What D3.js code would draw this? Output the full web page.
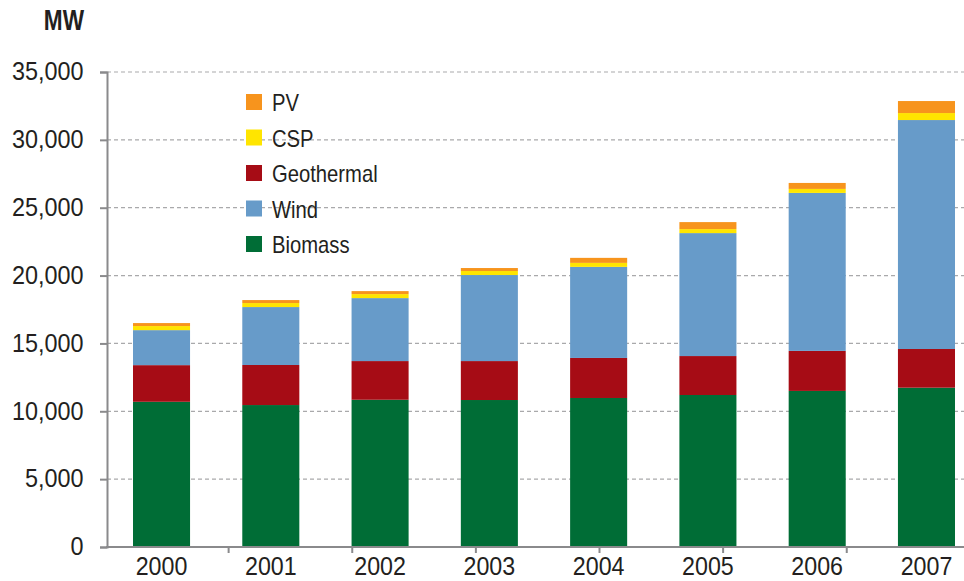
<!DOCTYPE html>
<html>
<head>
<meta charset="utf-8">
<script src="https://cdn.jsdelivr.net/npm/d3@7"></script>
<style>
  body { margin: 0; background: #fff; }
  svg { display: block; font-family: "Liberation Sans", Arial, sans-serif; }
</style>
</head>
<body>
<svg id="chart" width="964" height="581"></svg>
<script>
// values (MW)
var years = ["2000", "2001", "2002", "2003", "2004", "2005", "2006", "2007"];
var biomass = [10700, 10460, 10850, 10830, 10980, 11200, 11500, 11740];
var geothermal = [2700, 2950, 2850, 2870, 2950, 2870, 2950, 2850];
var wind = [2580, 4270, 4640, 6340, 6710, 9060, 11640, 16870];
var csp = [300, 295, 295, 295, 295, 295, 295, 515];
var pv = [220, 220, 220, 220, 370, 515, 440, 885];
var yTicks = [0, 5000, 10000, 15000, 20000, 25000, 30000, 35000];

var seriesKeys = ["biomass", "geothermal", "wind", "csp", "pv"];
var seriesNames = { biomass: "Biomass", geothermal: "Geothermal", wind: "Wind", csp: "CSP", pv: "PV" };
var colors = { biomass: "#006d36", geothermal: "#a60c15", wind: "#679bc9", csp: "#ffe500", pv: "#f7941d" };
var legendOrder = ["pv", "csp", "geothermal", "wind", "biomass"];

var rows = years.map(function(y, i) {
  return { year: y, biomass: biomass[i], geothermal: geothermal[i], wind: wind[i], csp: csp[i], pv: pv[i] };
});

var margin = { top: 72, left: 107, bottom: 34 },
  width = 964,
  height = 581,
  y0 = height - margin.bottom;

var svg = d3.select("#chart");

var xScale = d3
  .scaleBand()
  .domain(years)
  .range([margin.left, 981])
  .paddingInner(0.478)
  .paddingOuter(0.238);

// the category ticks on the bottom axis sit on their own spacing
var xTickScale = d3.scaleLinear().domain([0, 8]).range([105, 1094]);

var yScale = d3.scaleLinear().domain([0, 35000]).range([y0, margin.top]);

var stacked = d3.stack().keys(seriesKeys)(rows);

var textColor = "#231f20";
var axisColor = "#8a8a8c";

// gridlines
svg
  .append("g")
  .selectAll("line")
  .data(yTicks.filter(function(d) { return d > 0; }))
  .enter()
  .append("line")
  .attr("x1", margin.left)
  .attr("x2", width)
  .attr("y1", function(d) { return yScale(d); })
  .attr("y2", function(d) { return yScale(d); })
  .attr("stroke", "#a9a9ab")
  .attr("stroke-width", 1.2)
  .attr("stroke-dasharray", "4,3");

// bars
svg
  .append("g")
  .selectAll("g")
  .data(stacked)
  .enter()
  .append("g")
  .attr("fill", function(d) { return colors[d.key]; })
  .selectAll("rect")
  .data(function(d) { return d; })
  .enter()
  .append("rect")
  .attr("x", function(d) { return xScale(d.data.year); })
  .attr("y", function(d) { return yScale(d[1]); })
  .attr("width", xScale.bandwidth())
  .attr("height", function(d) { return yScale(d[0]) - yScale(d[1]); });

// y axis
var yAxis = d3
  .axisLeft(yScale)
  .tickValues(yTicks)
  .tickSize(7)
  .tickPadding(19)
  .tickFormat(d3.format(","));

var yAxisG = svg
  .append("g")
  .attr("transform", "translate(" + margin.left + ",0)")
  .call(yAxis);

yAxisG.select(".domain").attr("stroke", axisColor).attr("stroke-width", 2);
yAxisG.selectAll(".tick line").attr("stroke", axisColor).attr("stroke-width", 2);
yAxisG
  .selectAll(".tick text")
  .attr("fill", textColor)
  .style("font-size", "26px")
  .attr("dy", "0.3em")
  .attr("transform", "scale(0.9,1)");

// x axis line and ticks
svg
  .append("line")
  .attr("x1", margin.left - 1)
  .attr("x2", width)
  .attr("y1", y0)
  .attr("y2", y0)
  .attr("stroke", axisColor)
  .attr("stroke-width", 2);

svg
  .append("g")
  .selectAll("line")
  .data([1, 2, 3, 4, 5, 6, 7])
  .enter()
  .append("line")
  .attr("x1", function(d) { return xTickScale(d); })
  .attr("x2", function(d) { return xTickScale(d); })
  .attr("y1", y0)
  .attr("y2", y0 + 6)
  .attr("stroke", axisColor)
  .attr("stroke-width", 2);

svg
  .append("g")
  .selectAll("text")
  .data(years)
  .enter()
  .append("text")
  .attr("transform", function(d) {
    return "translate(" + (xScale(d) + xScale.bandwidth() / 2) + "," + (y0 + 28) + ") scale(0.93,1)";
  })
  .attr("text-anchor", "middle")
  .attr("fill", textColor)
  .style("font-size", "25px")
  .text(function(d) { return d; });

// unit label
svg
  .append("text")
  .attr("transform", "translate(84,30) scale(0.78,1)")
  .attr("text-anchor", "end")
  .attr("fill", textColor)
  .style("font-size", "29px")
  .style("font-weight", "bold")
  .text("MW");

// legend
var legend = svg
  .append("g")
  .attr("transform", "translate(246,102)")
  .selectAll("g")
  .data(legendOrder)
  .enter()
  .append("g")
  .attr("transform", function(d, i) { return "translate(0," + i * 35.5 + ")"; });

legend
  .append("rect")
  .attr("x", 0)
  .attr("y", -8)
  .attr("width", 16)
  .attr("height", 16)
  .attr("fill", function(d) { return colors[d]; });

legend
  .append("text")
  .attr("transform", "translate(26,9) scale(0.88,1)")
  .attr("fill", textColor)
  .style("font-size", "23px")
  .text(function(d) { return seriesNames[d]; });
</script>
</body>
</html>
